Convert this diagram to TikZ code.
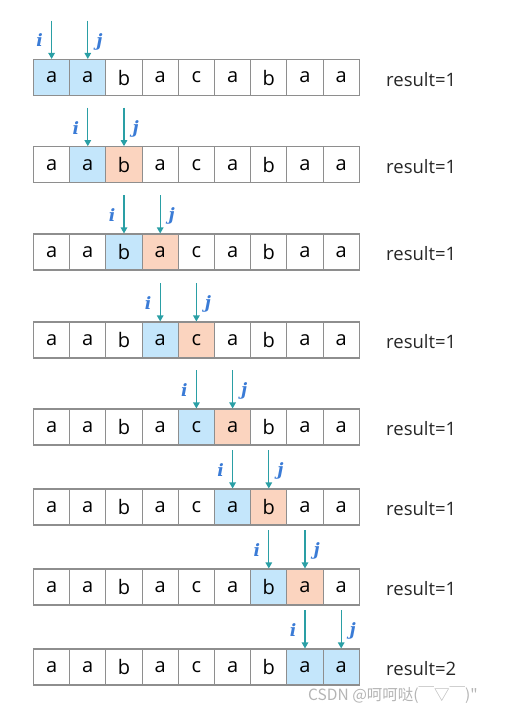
\documentclass[tikz,border=0pt]{standalone}
\usepackage{fontspec}
\setmainfont{Open Sans}
\newfontfamily\cjkfont{Noto Sans CJK SC}
\newfontfamily\ptrfont{DejaVu Serif}
\usetikzlibrary{arrows.meta}
\definecolor{cellgray}{HTML}{8E8E8E}
\definecolor{cellblue}{HTML}{C4E6FB}
\definecolor{cellorange}{HTML}{FBD4BF}
\definecolor{ptrteal}{HTML}{2A9FA5}
\definecolor{ptrblue}{HTML}{3A7BD6}
\definecolor{markgray}{HTML}{B4B4B4}

\begin{document}
\begin{tikzpicture}[
  x=1pt, y=-1pt,
  cell/.style={draw=cellgray, line width=1.1pt, minimum width=36.2pt,
    minimum height=36pt, inner sep=0pt, font=\fontsize{20pt}{20pt}\selectfont},
  ptr/.style={draw=ptrteal, line width=1.2pt, -{Triangle[width=6.5pt,length=6pt]}},
  ptrlabel/.style={text=ptrblue, inner sep=0pt, font=\ptrfont\bfseries\itshape\fontsize{17pt}{17pt}\selectfont},
  res/.style={anchor=west, inner sep=0pt, text=black!85, font=\fontsize{18.5pt}{18.5pt}\selectfont}
]
  \useasboundingbox (0,0) rectangle (514,715);
  % ---- 八行：i 指向第 r 格，j 指向第 r+1 格 ----
  \foreach \t/\res [count=\r from 0] in {59.5/1,146.7/1,234/1,322/1,409/1,489/1,569/1,649/2} {
    \pgfmathtruncatemacro\jj{\r+1}
    \foreach \ch [count=\c from 0] in {a,a,b,a,c,a,b,a,a} {
      \def\fc{white}
      \ifnum\c=\r \def\fc{cellblue}\fi
      \ifnum\c=\jj
        \ifnum\r=0 \def\fc{cellblue}\else
          \ifnum\r=7 \def\fc{cellblue}\else \def\fc{cellorange}\fi
        \fi
      \fi
      \node[cell, fill=\fc] (c\r-\c) at ({51.6+36.2*\c},{\t+18}) {\ch};
    }
    % ---- 指针 i、j ----
    \coordinate (ti\r) at ({51.6+36.2*\r},{\t-39});
    \coordinate (tj\r) at ({51.6+36.2*\jj},{\t-39});
    \draw[ptr] (ti\r) -- (c\r-\r.north);
    \draw[ptr] (tj\r) -- (c\r-\jj.north);
    \node[ptrlabel] (li\r) at ({39.6+36.2*\r},{\t-19}) {i};
    \node[ptrlabel] (lj\r) at ({63.2+36.2*\jj},{\t-18}) {j};
    % ---- 结果 ----
    \node[res] (r\r) at (386,{\t+20}) {result=\res};
  }
  % ---- 水印 ----
  \node[text=markgray, inner sep=0pt, font=\cjkfont\fontsize{15.5pt}{15.5pt}\selectfont]
    (mark) at (393,695) {CSDN @呵呵哒(￣▽￣)"};
\end{tikzpicture}
\end{document}
